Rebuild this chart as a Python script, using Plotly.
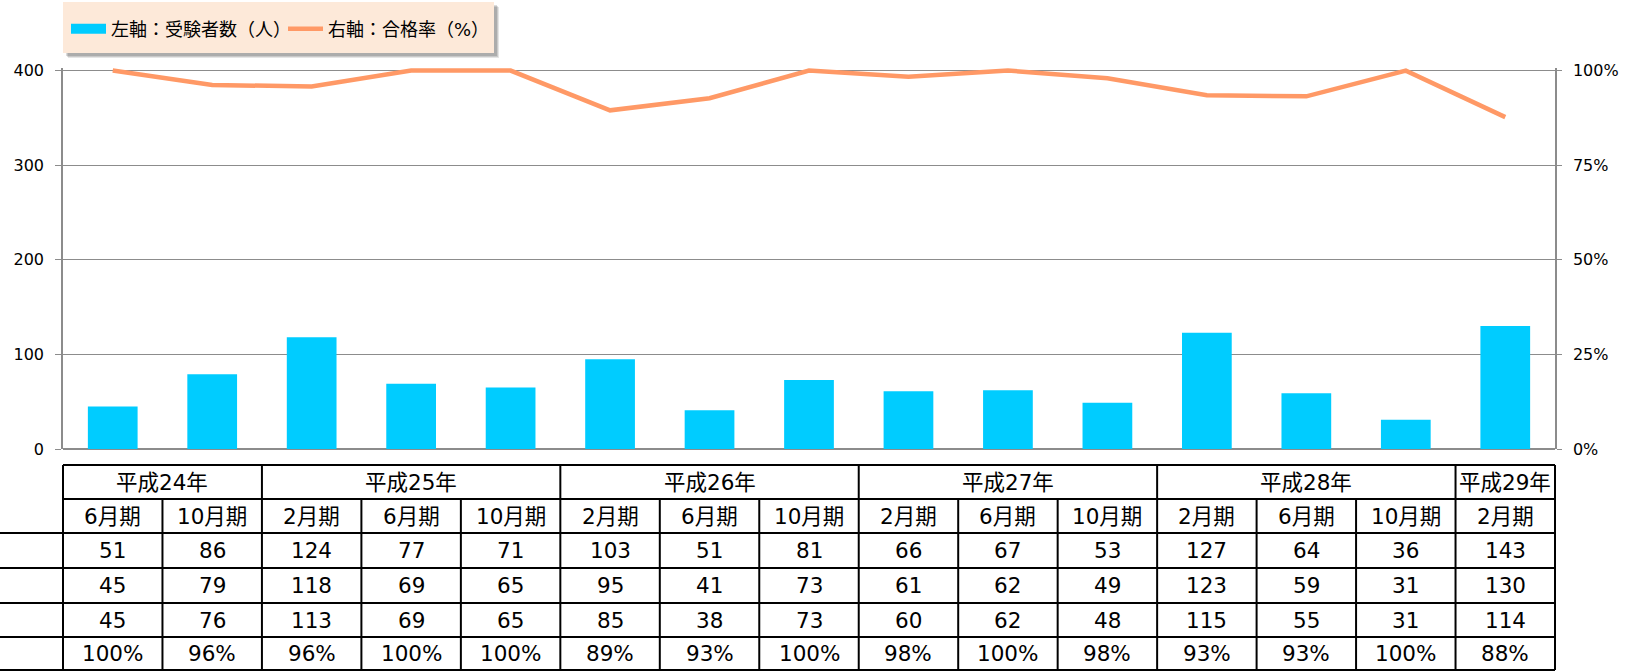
import plotly.graph_objects as go

# ---------------- data ----------------
years = ["平成24年", "平成25年", "平成26年", "平成27年", "平成28年", "平成29年"]
year_span = [2, 3, 3, 3, 3, 1]
periods = ["6月期", "10月期", "2月期", "6月期", "10月期", "2月期", "6月期", "10月期",
           "2月期", "6月期", "10月期", "2月期", "6月期", "10月期", "2月期"]
applicants = [51, 86, 124, 77, 71, 103, 51, 81, 66, 67, 53, 127, 64, 36, 143]
examinees = [45, 79, 118, 69, 65, 95, 41, 73, 61, 62, 49, 123, 59, 31, 130]
passers = [45, 76, 113, 69, 65, 85, 38, 73, 60, 62, 48, 115, 55, 31, 114]
rate_labels = ["100%", "96%", "96%", "100%", "100%", "89%", "93%", "100%",
               "98%", "100%", "98%", "93%", "93%", "100%", "88%"]
rate_line = [100, 96.2, 95.8, 100, 100, 89.5, 92.7, 100, 98.4, 100, 98.0, 93.5, 93.2, 100, 87.7]
left_ticks = [0, 100, 200, 300, 400]
right_ticks = [0, 25, 50, 75, 100]
right_tick_text = ["0%", "25%", "50%", "75%", "100%"]
bar_name = "左軸：受験者数（人）"
line_name = "右軸：合格率（%）"

# ---------------- style ----------------
BAR_C = "#00CCFF"
LINE_C = "#FF9966"
GRID_C = "#8C8C8C"
FONT = "DejaVu Sans, Noto Sans CJK JP, sans-serif"
W, H = 1638, 671
ML, MR, MT, MB = 63, 83, 68, 222
PW, PH = W - ML - MR, H - MT - MB
N = len(periods)
x = list(range(N))


def ypx(px):
    return (H - MB - px) / PH


def xpx(px):
    return (px - ML) / PW


def xcat(b):
    # paper x of a category boundary/position b on the category axis (range -0.5..N-0.5)
    return (b + 0.5) / N


fig = go.Figure()
fig.add_trace(go.Bar(x=x, y=examinees, marker=dict(color=BAR_C, line=dict(width=0)),
                     name=bar_name, showlegend=False, legendgroup="bar", yaxis="y"))
fig.add_trace(go.Scatter(x=[None], y=[None], mode="lines", name=bar_name, legendgroup="bar",
                         line=dict(color=BAR_C, width=10), hoverinfo="skip"))
fig.add_trace(go.Scatter(x=x, y=rate_line, mode="lines", name=line_name,
                         line=dict(color=LINE_C, width=4.5), yaxis="y2"))

shapes = []
annotations = []

# legend box shadow + background
for off, op in [(5, 0.10), (4, 0.12), (3, 0.14)]:
    shapes.append(dict(type="rect", xref="paper", yref="paper", layer="below",
                       x0=xpx(63 + off), x1=xpx(494 + off), y0=ypx(53 + off), y1=ypx(2 + off),
                       fillcolor=f"rgba(0,0,0,{op})", line=dict(width=0)))
shapes.append(dict(type="rect", xref="paper", yref="paper", layer="below",
                   x0=xpx(63), x1=xpx(494), y0=ypx(53), y1=ypx(2),
                   fillcolor="#FDE9D9", line=dict(width=0)))

row_tops = [465, 499, 533, 568, 603, 637, 670]
LW = 2
# horizontal lines
for i, py in enumerate(row_tops):
    x0 = xcat(-0.5)
    if i >= 2:
        x0 = -ML / PW
    shapes.append(dict(type="line", xref="paper", yref="paper", x0=x0, x1=xcat(N - 0.5),
                       y0=ypx(py), y1=ypx(py), line=dict(color="black", width=LW)))
# vertical lines
group_bounds = [-0.5]
acc = -0.5
for s in year_span:
    acc += s
    group_bounds.append(acc)
for b in range(N + 1):
    bb = b - 0.5
    top = row_tops[0] if bb in group_bounds else row_tops[1]
    shapes.append(dict(type="line", xref="paper", yref="paper", x0=xcat(bb), x1=xcat(bb),
                       y0=ypx(top), y1=ypx(row_tops[-1]), line=dict(color="black", width=LW)))

TF = dict(family=FONT, size=21.5, color="black")


def cell_text(xc, row, txt):
    yc = (row_tops[row] + row_tops[row + 1]) / 2
    annotations.append(dict(xref="x", yref="paper", x=xc, y=ypx(yc), text=txt,
                            showarrow=False, font=TF, xanchor="center", yanchor="middle"))


start = 0
for yname, s in zip(years, year_span):
    cell_text(start + (s - 1) / 2, 0, yname)
    start += s
for i in range(N):
    cell_text(i, 1, periods[i])
    cell_text(i, 2, str(applicants[i]))
    cell_text(i, 3, str(examinees[i]))
    cell_text(i, 4, str(passers[i]))
    cell_text(i, 5, rate_labels[i])

ytop = 400 + 2.6 / ((H - MB - 70.7) / 400)
fig.update_layout(
    width=W, height=H,
    margin=dict(l=ML, r=MR, t=MT, b=MB, pad=0, autoexpand=False),
    paper_bgcolor="white", plot_bgcolor="white",
    font=dict(family=FONT, size=16, color="black"),
    bargap=0.5,
    showlegend=True,
    legend=dict(orientation="h", x=xpx(66), y=ypx(29), xanchor="left", yanchor="middle",
                bgcolor="rgba(0,0,0,0)", borderwidth=0,
                font=dict(family=FONT, size=18, color="black"),
                itemwidth=35, traceorder="normal", entrywidth=167, entrywidthmode="pixels"),
    xaxis=dict(range=[-0.5, N - 0.5], showticklabels=False, showgrid=False, zeroline=False,
               showline=False, ticks=""),
    yaxis=dict(range=[0, ytop], tickvals=left_ticks, showgrid=True, gridcolor=GRID_C, gridwidth=1,
               zeroline=True, zerolinecolor=GRID_C, zerolinewidth=1.5,
               showline=True, linecolor=GRID_C, linewidth=1.5, ticks="outside", ticklen=6,
               tickcolor=GRID_C, tickfont=dict(size=16), ticklabelstandoff=8),
    yaxis2=dict(range=[0, ytop / 4], overlaying="y", side="right", tickvals=right_ticks,
                ticktext=right_tick_text, showgrid=False, zeroline=False, showline=True,
                linecolor=GRID_C, linewidth=1.5, ticks="outside", ticklen=5, tickcolor=GRID_C,
                tickfont=dict(size=16), ticklabelstandoff=8),
    shapes=shapes,
    annotations=annotations,
)

fig.write_html("out.html", config={"displayModeBar": False},
               post_script="document.body.style.margin='0';")
